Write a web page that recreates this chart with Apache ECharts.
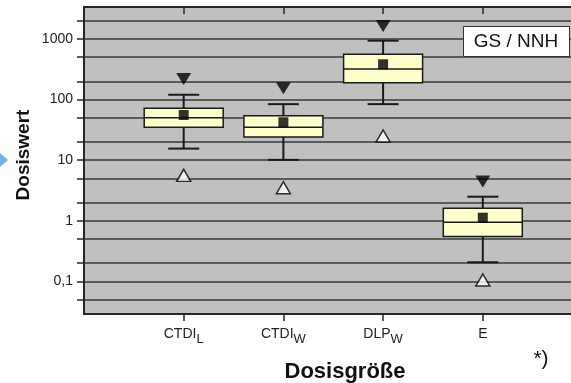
<!DOCTYPE html>
<html><head><meta charset="utf-8">
<script src="https://cdn.jsdelivr.net/npm/echarts@6/dist/echarts.min.js"></script>
<style>html,body{margin:0;padding:0;background:#fff}#c{width:571px;height:383px}</style>
</head><body><div id="c"></div>
<script>
// ---- data ----
const categories = ['', 'CTDI_L', 'CTDI_W', 'DLP_W', 'E', ''];
const boxCategories = ['CTDI_L', 'CTDI_W', 'DLP_W', 'E'];
const whiskerLow  = [15.5, 10.1, 84, 0.206];
const q1          = [35, 24.1, 190, 0.546];
const median      = [50, 35, 320, 0.94];
const q3          = [72, 54, 558, 1.6];
const whiskerHigh = [120, 84, 937, 2.49];
const meanVals    = [55.6, 42.2, 382, 1.12];
const maxVals     = [219, 153, 1640, 4.45];
const minVals     = [5.6, 3.5, 25, 0.105];
const gridValues  = [0.05, 0.1, 0.2, 0.5, 1, 2, 5, 10, 20, 50, 100, 200, 500, 1000, 2000];
const yTickLabels = [0.1, 1, 10, 100, 1000];
const yMin = 0.0288, yMax = 3373;

const FONT = 'Liberation Sans, Arial, Helvetica, sans-serif';
const dark = '#262626';
const idx = boxCategories.map(c => categories.indexOf(c));

const chart = echarts.init(document.getElementById('c'), null, {renderer: 'canvas'});

function xLabel(v) {
  if (!v) return '';
  const m = v.match(/^(.*)_(\w+)$/);
  return m ? '{main|' + m[1] + '}{sub|' + m[2] + '}' : '{main|' + v + '}';
}
const tickShow = (i) => i > 0 && i < categories.length - 1;

const option = {
  animation: false,
  grid: {left: 84, top: 7, width: 498.5, height: 307, outerBoundsMode: 'none', containLabel: false,
    show: true, backgroundColor: '#c0c0c0', borderWidth: 0},
  xAxis: [{
    type: 'category', data: categories, boundaryGap: false, position: 'bottom',
    axisLine: {show: true, lineStyle: {color: dark, width: 2}},
    axisTick: {show: true, length: 7, interval: tickShow, lineStyle: {color: dark, width: 1.5}},
    axisLabel: {interval: 0, margin: 13, formatter: xLabel, color: '#222',
      rich: {
        main: {fontSize: 14, fontFamily: FONT, lineHeight: 14, verticalAlign: 'top', color: '#222'},
        sub: {fontSize: 13, fontFamily: FONT, lineHeight: 24, color: '#222'}
      }},
    splitLine: {show: false}
  }, {
    type: 'category', data: categories, boundaryGap: false, position: 'top',
    axisLine: {show: true, lineStyle: {color: dark, width: 2}},
    axisTick: {show: true, inside: true, length: 7, interval: tickShow, lineStyle: {color: dark, width: 1.5}},
    axisLabel: {show: false},
    splitLine: {show: false}
  }],
  yAxis: {
    type: 'log', logBase: 10, min: yMin, max: yMax,
    axisLine: {show: true, lineStyle: {color: dark, width: 2}},
    axisTick: {show: true, inside: false, length: 7, customValues: gridValues, lineStyle: {color: dark, width: 1.5}},
    axisLabel: {customValues: yTickLabels, margin: 11, fontSize: 14, fontFamily: FONT, color: '#222',
      formatter: v => (v >= 1 ? String(Math.round(v)) : String(+(+v).toPrecision(3))).replace('.', ',')},
    splitLine: {show: true, lineStyle: {color: '#3a3a3a', width: 1.5}},
    minorTick: {show: false}
  },
  series: [{
    type: 'custom',
    data: idx.map((x, i) => [x, whiskerLow[i], q1[i], median[i], q3[i], whiskerHigh[i]]),
    encode: {x: 0, y: [1, 2, 3, 4, 5]},
    z: 3,
    renderItem: function (params, api) {
      const xi = api.value(0);
      const lo = api.coord([xi, api.value(1)]);
      const b = api.coord([xi, api.value(2)]);
      const m = api.coord([xi, api.value(3)]);
      const t = api.coord([xi, api.value(4)]);
      const hi = api.coord([xi, api.value(5)]);
      const cx = lo[0];
      const bw = 79, cw = 31;
      const ls = {stroke: '#1a1a1a', lineWidth: 2};
      return {type: 'group', children: [
        {type: 'line', shape: {x1: cx, y1: t[1], x2: cx, y2: hi[1]}, style: ls},
        {type: 'line', shape: {x1: cx, y1: b[1], x2: cx, y2: lo[1]}, style: ls},
        {type: 'line', shape: {x1: cx - cw / 2, y1: hi[1], x2: cx + cw / 2, y2: hi[1]}, style: ls},
        {type: 'line', shape: {x1: cx - cw / 2, y1: lo[1], x2: cx + cw / 2, y2: lo[1]}, style: ls},
        {type: 'rect', shape: {x: cx - bw / 2, y: t[1], width: bw, height: b[1] - t[1]},
          style: {fill: '#ffffcc', stroke: '#1a1a1a', lineWidth: 1.5}},
        {type: 'line', shape: {x1: cx - bw / 2, y1: m[1], x2: cx + bw / 2, y2: m[1]},
          style: {stroke: '#1a1a1a', lineWidth: 1.5}}
      ]};
    }
  }, {
    type: 'scatter', z: 5, symbol: 'rect', symbolSize: 10,
    itemStyle: {color: '#000'},
    data: idx.map((x, i) => [x, meanVals[i]])
  }, {
    type: 'scatter', z: 5, symbol: 'triangle', symbolRotate: 180, symbolSize: [15, 12],
    itemStyle: {color: '#000'},
    data: idx.map((x, i) => [x, maxVals[i]])
  }, {
    type: 'scatter', z: 5, symbol: 'triangle', symbolSize: [14, 12],
    itemStyle: {color: '#fff', borderColor: '#000', borderWidth: 1.5},
    data: idx.map((x, i) => [x, minVals[i]])
  }],
  graphic: [
    {type: 'polygon', shape: {points: [[0, 153], [8, 160], [0, 167]]}, style: {fill: '#74aee8'}},
    {type: 'text', x: 24, y: 155, rotation: Math.PI / 2,
      style: {text: 'Dosiswert', fontSize: 19, fontWeight: 'bold', fontFamily: FONT, fill: '#111',
        align: 'center', verticalAlign: 'middle', textAlign: 'center', textVerticalAlign: 'middle'}},
    {type: 'text', x: 345, y: 372,
      style: {text: 'Dosisgröße', fontSize: 22, fontWeight: 'bold', fontFamily: FONT, fill: '#111',
        align: 'center', verticalAlign: 'middle', textAlign: 'center', textVerticalAlign: 'middle'}},
    {type: 'text', x: 541, y: 359,
      style: {text: '*)', fontSize: 21, fontFamily: FONT, fill: '#111',
        align: 'center', verticalAlign: 'middle', textAlign: 'center', textVerticalAlign: 'middle'}},
    {type: 'rect', z: 10, shape: {x: 463.5, y: 26.5, width: 106, height: 30},
      style: {fill: '#fff', stroke: '#333', lineWidth: 1}},
    {type: 'text', z: 11, x: 516, y: 41.5,
      style: {text: 'GS / NNH', fontSize: 19, fontFamily: FONT, fill: '#111',
        align: 'center', verticalAlign: 'middle', textAlign: 'center', textVerticalAlign: 'middle'}}
  ]
};
chart.setOption(option);
</script>
</body></html>
